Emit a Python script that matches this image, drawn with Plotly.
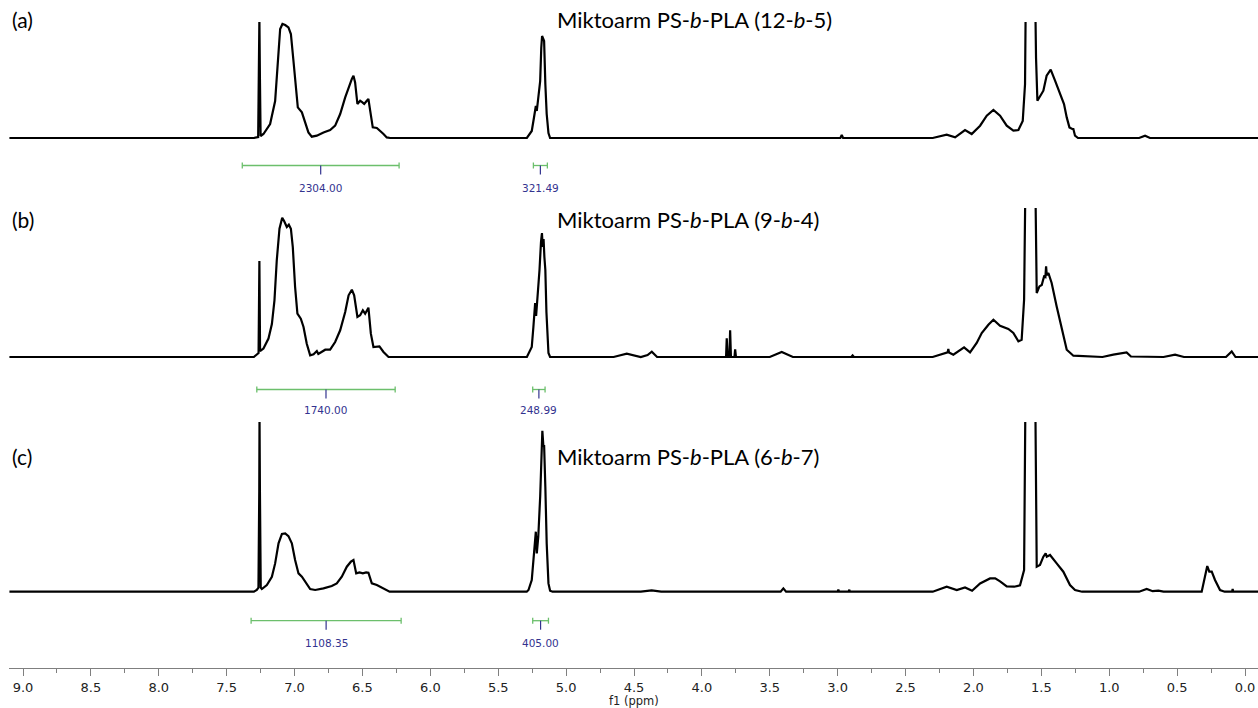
import plotly.graph_objects as go

# ---------------- data (ppm, intensity) ----------------
a_ppm = [9.10, 7.300, 7.268, 7.262, 7.259, 7.255, 7.250, 7.229, 7.180, 7.143, 7.118, 7.106, 7.089, 7.069,
         7.045, 7.027, 7.008, 6.991, 6.976, 6.946, 6.922, 6.898, 6.873, 6.836, 6.787, 6.738, 6.701, 6.664,
         6.627, 6.602, 6.578, 6.566, 6.554, 6.537, 6.517, 6.500, 6.487, 6.468, 6.456, 6.443, 6.424, 6.394,
         6.370, 6.345, 6.321, 6.296, 5.289, 5.253, 5.236, 5.223, 5.216, 5.205, 5.191, 5.183, 5.177, 5.171,
         5.167, 5.162, 5.153, 5.143, 5.130, 5.118, 2.98, 2.97, 2.96, 2.30, 2.197, 2.135, 2.062, 2.013,
         1.951, 1.902, 1.853, 1.804, 1.755, 1.706, 1.669, 1.637, 1.620, 1.611, 1.551, 1.539, 1.529, 1.510,
         1.485, 1.461, 1.431, 1.399, 1.362, 1.333, 1.313, 1.293, 1.272, 1.264, 1.252, 1.230, 0.78, 0.736,
         0.70, -0.10]
a_int = [0, 0, 1, 60, 120, 60, 2, 4, 14, 37, 87, 109, 114, 113,
         110.6, 104, 77, 50.6, 30.6, 25.6, 15.6, 5.6, 1.3, 2.3, 5.6, 8, 12.3, 24,
         40.6, 50.6, 59, 62.3, 55.6, 34, 37.3, 35.6, 34, 37.3, 39, 27.3, 10.6, 10,
         7.3, 4, 0.6, 0, 0, 7, 21, 32, 27, 40, 57, 90, 102, 100,
         99, 97, 54, 24, 5, 0, 0, 3, 0, 0, 3.3, 0.6, 8, 4,
         12.3, 22.3, 28, 22.3, 12.3, 7.3, 8, 17, 54, 200, 200, 80, 37.3, 42.3,
         47.3, 62.3, 68.3, 57.3, 44, 34, 20.6, 10.6, 9, 9, 2.3, 0, 0, 2.3,
         0, 0]

b_ppm = [9.10, 7.300, 7.265, 7.259, 7.254, 7.229, 7.192, 7.167, 7.148, 7.131, 7.111, 7.091, 7.077, 7.057,
         7.042, 7.027, 7.013, 6.996, 6.979, 6.954, 6.934, 6.910, 6.885, 6.860, 6.836, 6.825, 6.774, 6.738,
         6.701, 6.664, 6.627, 6.602, 6.578, 6.561, 6.537, 6.517, 6.497, 6.480, 6.456, 6.438, 6.419, 6.375,
         6.345, 6.308, 5.289, 5.253, 5.241, 5.228, 5.221, 5.212, 5.196, 5.185, 5.178, 5.172, 5.166, 5.160,
         5.153, 5.145, 5.130, 5.118, 4.65, 4.553, 4.45, 4.40, 4.369, 4.33, 3.822, 3.817, 3.810, 3.797,
         3.792, 3.786, 3.760, 3.755, 3.749, 3.50, 3.412, 3.33, 2.90, 2.89, 2.88, 2.30, 2.246, 2.190,
         2.185, 2.180, 2.148, 2.069, 2.025, 1.976, 1.939, 1.890, 1.853, 1.804, 1.743, 1.706, 1.669, 1.645,
         1.627, 1.611, 1.551, 1.534, 1.514, 1.497, 1.480, 1.470, 1.465, 1.460, 1.448, 1.424, 1.387, 1.350,
         1.313, 1.264, 1.05, 0.970, 0.872, 0.840, 0.60, 0.515, 0.45, 0.14, 0.098, 0.07, -0.10]
b_int = [0, 0, 4, 96, 6, 8.4, 18.4, 33, 56.7, 96.7, 128.3, 139.3, 136, 130,
         132.3, 128.3, 110, 70, 43.3, 38.3, 30, 13.3, 1.7, 2.7, 6, 3, 7.3, 7.3,
         15, 26.7, 45, 61.7, 67.3, 61.7, 40, 41.7, 46.7, 43.3, 49.3, 23.3, 10, 10.7,
         5, 0, 0, 10, 30, 54, 41, 55, 87, 115, 124, 110, 118, 100,
         87, 45, 4, 0, 0, 3.3, 0, 2, 5.3, 0, 0, 18.7, 0, 0,
         26.7, 0, 0, 7.7, 0, 0, 5, 0, 0, 1.5, 0, 0, 2.3, 4.6,
         8, 4.6, 2.3, 9.6, 4.6, 14, 24, 32.3, 37.3, 31.3, 28, 24, 15.6, 17.3,
         57.3, 250, 250, 64, 70.6, 72, 80.6, 80, 90.6, 82, 84, 74, 50.6, 27.3,
         7.3, 1.3, 0, 2.3, 4.6, 0.5, 0, 2.3, 0, 0, 5.6, 0, 0]

c_ppm = [9.10, 7.30, 7.278, 7.266, 7.260, 7.258, 7.255, 7.249, 7.241, 7.204, 7.167, 7.143, 7.118, 7.093,
         7.069, 7.045, 7.020, 6.996, 6.971, 6.946, 6.915, 6.885, 6.848, 6.787, 6.726, 6.689, 6.652, 6.615,
         6.585, 6.566, 6.546, 6.522, 6.497, 6.473, 6.456, 6.431, 6.394, 6.357, 6.321, 6.30, 5.29, 5.277, 5.253,
         5.236, 5.223, 5.216, 5.205, 5.191, 5.181, 5.175, 5.167, 5.162, 5.153, 5.143, 5.130, 5.118, 5.10,
         4.45, 4.37, 4.30, 3.42, 3.40, 3.38, 3.00, 2.995, 2.99, 2.92, 2.914, 2.91, 2.30, 2.197,
         2.123, 2.062, 2.01, 1.951, 1.878, 1.840, 1.804, 1.755, 1.700, 1.657, 1.627, 1.611, 1.551, 1.534,
         1.510, 1.485, 1.468, 1.460, 1.436, 1.387, 1.338, 1.289, 1.252, 1.20, 0.78, 0.724, 0.68, 0.638,
         0.60, 0.319, 0.295, 0.278, 0.263, 0.245, 0.221, 0.184, 0.15, 0.095, 0.091, 0.087, -0.10]
c_int = [0, 0, 1.7, 4, 100, 175, 100, 4, 2.7, 6.7, 15, 28.3, 48.3, 57.7,
         58.3, 55.6, 48.3, 31.7, 18.3, 15, 8.3, 2.7, 1.7, 3.3, 5.7, 8.3, 15, 25,
         30, 31.7, 18.3, 19.3, 18.3, 19.3, 19, 8.3, 6.7, 4.3, 1.7, 0, 0, 1.7, 11.7,
         35, 60, 38.3, 55, 95, 141.7, 161, 145, 146.7, 105, 48.3, 8.3, 1, 0,
         0, 1.3, 0, 0, 3.3, 0, 0, 2, 0, 0, 2, 0, 0, 5,
         1.7, 4.3, 1, 8.3, 13.3, 13.3, 10.3, 5.3, 5, 6.3, 21.7, 300, 300, 25,
         26.7, 35, 38.3, 35, 36.7, 28.3, 20, 6.7, 1.7, 0, 0, 2.7, 0.5, 1,
         0, 0, 15, 25.7, 20, 20, 11.7, 1.7, 0, 0, 2.7, 0, 0]

# integrations: start ppm, end ppm, value
integ_a_start = [7.385, 5.241]
integ_a_end = [6.230, 5.138]
integ_a_label = ["2304.00", "321.49"]
integ_b_start = [7.278, 5.246]
integ_b_end = [6.259, 5.155]
integ_b_label = ["1740.00", "248.99"]
integ_c_start = [7.320, 5.246]
integ_c_end = [6.215, 5.130]
integ_c_label = ["1108.35", "405.00"]

panel_tags = ["(a)", "(b)", "(c)"]
titles = ["Miktoarm PS-<i>b</i>-PLA (12-<i>b</i>-5)",
          "Miktoarm PS-<i>b</i>-PLA (9-<i>b</i>-4)",
          "Miktoarm PS-<i>b</i>-PLA (6-<i>b</i>-7)"]
x_title = "f1 (ppm)"

# ---------------- layout constants (pixels) ----------------
W, H = 1258, 708
ML, MR, MT, MB = 9, 0, 0, 40
PH = H - MT - MB  # plot height in px


def py(p):
    return 1 - p / PH


# each panel: clip-top pixel, baseline pixel, bottom pixel
panels = [
    dict(top=22, base=138, bottom=208, bar=27.5, lab=50),
    dict(top=208, base=357, bottom=422, bar=32.5, lab=53),
    dict(top=422, base=591.7, bottom=PH, bar=29, lab=51.5),
]
spectra = [(a_ppm, a_int), (b_ppm, b_int), (c_ppm, c_int)]
integs = [(integ_a_start, integ_a_end, integ_a_label),
          (integ_b_start, integ_b_end, integ_b_label),
          (integ_c_start, integ_c_end, integ_c_label)]

GREEN = "#6cbf6c"
NAVY = "#33338f"

fig = go.Figure()
annotations = []
for i, (pan, (xs, ys), (st, en, lb)) in enumerate(zip(panels, spectra, integs)):
    yname = "y" if i == 0 else f"y{i+1}"
    fig.add_trace(go.Scatter(x=xs, y=ys, mode="lines", xaxis="x", yaxis=yname,
                             line=dict(color="black", width=2.2), hoverinfo="skip",
                             showlegend=False))
    gx, gy, nx, ny = [], [], [], []
    for s, e in zip(st, en):
        m = (s + e) / 2
        gx += [s, e, None, s, s, None, e, e, None]
        gy += [-pan["bar"], -pan["bar"], None, -pan["bar"] - 3, -pan["bar"] + 3, None,
               -pan["bar"] - 3, -pan["bar"] + 3, None]
        nx += [m, m, None]
        ny += [-pan["bar"], -pan["bar"] - 9, None]
    fig.add_trace(go.Scatter(x=gx, y=gy, mode="lines", xaxis="x", yaxis=yname,
                             line=dict(color=GREEN, width=1.3), hoverinfo="skip", showlegend=False))
    fig.add_trace(go.Scatter(x=nx, y=ny, mode="lines", xaxis="x", yaxis=yname,
                             line=dict(color=NAVY, width=1.2), hoverinfo="skip", showlegend=False))
    for s, e, t in zip(st, en, lb):
        annotations.append(dict(x=(s + e) / 2, y=-pan["lab"], xref="x", yref=yname, text=t,
                                showarrow=False, xanchor="center", yanchor="middle",
                                font=dict(family="DejaVu Sans", size=10.5, color=NAVY)))
    # panel tag and title
    ty = [19, 219, 456][i]
    annotations.append(dict(x=(10 - ML) / (W - ML - MR), y=py(ty), xref="paper", yref="paper",
                            text=panel_tags[i], showarrow=False, xanchor="left", yanchor="middle",
                            font=dict(family="Lato", size=21, color="black")))
    annotations.append(dict(x=(555 - ML) / (W - ML - MR), y=py(ty), xref="paper", yref="paper",
                            text=titles[i], showarrow=False, xanchor="left", yanchor="middle",
                            font=dict(family="Lato", size=22, color="black")))
    # y axis
    yr = [-(pan["bottom"] - pan["base"]), pan["base"] - pan["top"]]
    ax = dict(domain=[py(pan["bottom"]), py(pan["top"])], range=yr, visible=False,
              showgrid=False, zeroline=False, fixedrange=True, anchor="x")
    fig.update_layout(**{("yaxis" if i == 0 else f"yaxis{i+1}"): ax})

annotations.append(dict(x=0.5, y=py(709.5), xref="paper", yref="paper", text=x_title,
                        showarrow=False, xanchor="center", yanchor="bottom",
                        font=dict(family="DejaVu Sans", size=11.5, color="#222222")))

x_left = 9.0 + (23 - ML) / 135.8
x_right = 0.0 - (W - 1245) / 135.8
fig.update_layout(
    width=W, height=H,
    margin=dict(l=ML, r=MR, t=MT, b=MB, pad=0),
    paper_bgcolor="white", plot_bgcolor="white",
    showlegend=False,
    xaxis=dict(range=[x_left, x_right], anchor="free", position=0, showgrid=False,
               zeroline=False, showline=True, linecolor="#7f7f7f", linewidth=1,
               ticks="outside", ticklen=7, tickwidth=1, tickcolor="#7f7f7f",
               tick0=0, dtick=0.5, tickformat=".1f", ticklabelstandoff=0,
               tickfont=dict(family="DejaVu Sans", size=13, color="#222222"),
               minor=dict(dtick=0.25, ticks="outside", ticklen=4, tickcolor="#7f7f7f", showgrid=False),
               fixedrange=True),
    annotations=annotations,
)

fig.write_html("out.html", config={"displayModeBar": False},
               post_script="document.body.style.margin='0';")
